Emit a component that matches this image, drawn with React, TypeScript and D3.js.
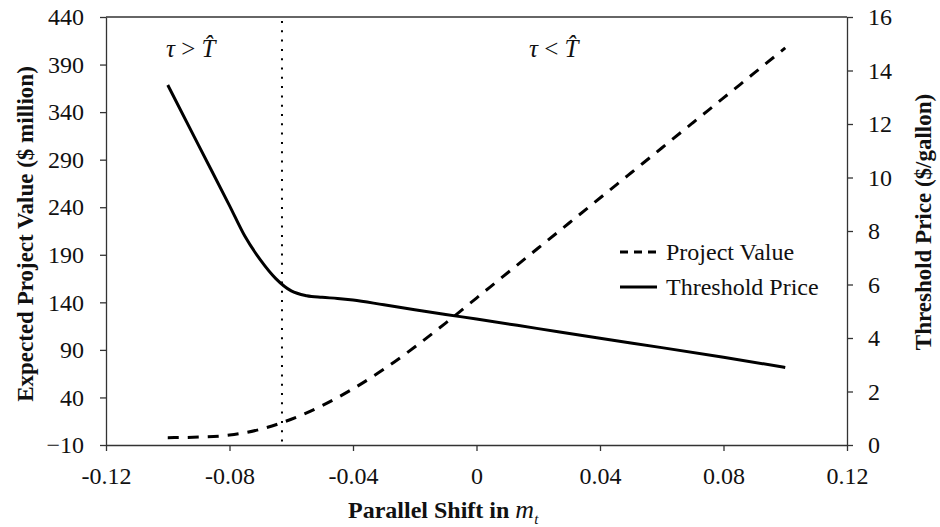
import React, { useRef, useEffect } from "react";
import * as d3 from "d3";

// Parallel shift values (x) and the two series
const shiftProject = [-0.1, -0.09, -0.08, -0.07, -0.06, -0.05, -0.04, -0.03, -0.02, -0.01, 0, 0.01, 0.02, 0.03, 0.04, 0.05, 0.06, 0.07, 0.08, 0.09, 0.1];
const projectValue = [-2.3, -1.7, 0.4, 6.5, 17.1, 31.4, 49.1, 69.7, 93, 118.2, 144.5, 170.8, 197.1, 223.4, 249.7, 276, 302.3, 328.6, 354.9, 381.2, 407.5];

const shiftThreshold = [-0.1, -0.09, -0.08, -0.075, -0.07, -0.065, -0.06, -0.055, -0.05, -0.045, -0.04, -0.03, -0.02, -0.01, 0, 0.02, 0.04, 0.06, 0.08, 0.1];
const thresholdPrice = [13.46, 11.2, 8.95, 7.8, 6.92, 6.22, 5.76, 5.58, 5.52, 5.48, 5.42, 5.24, 5.06, 4.88, 4.71, 4.35, 3.99, 3.64, 3.28, 2.9];

const xTicks = [-0.12, -0.08, -0.04, 0, 0.04, 0.08, 0.12];
const leftTicks = [-10, 40, 90, 140, 190, 240, 290, 340, 390, 440];
const rightTicks = [0, 2, 4, 6, 8, 10, 12, 14, 16];
const cutoffShift = -0.063;

const seriesNames = ["Project Value", "Threshold Price"];

const W = 940;
const H = 527;
const FONT = "'Liberation Serif', 'Times New Roman', serif";

const Chart: React.FC = () => {
	const svgRef = useRef<SVGSVGElement | null>(null);

	useEffect(() => {
		if (!svgRef.current) return;
		const svg = d3.select(svgRef.current);
		svg.selectAll("*").remove();

		const left = 106, right = 847, top = 17, bottom = 445;

		const x = d3.scaleLinear().domain([-0.12, 0.12]).range([left, right]);
		const yL = d3.scaleLinear().domain([-10, 440]).range([bottom, top]);
		const yR = d3.scaleLinear().domain([0, 16]).range([bottom, top]);

		const axisColor = "#333";

		// top border
		svg.append("line")
			.attr("x1", left).attr("x2", right)
			.attr("y1", top).attr("y2", top)
			.attr("stroke", axisColor).attr("stroke-width", 1.3);

		const styleAxis = (g: d3.Selection<SVGGElement, unknown, null, undefined>) => {
			g.selectAll(".domain").attr("stroke", axisColor).attr("stroke-width", 1.3);
			g.selectAll(".tick line").attr("stroke", axisColor).attr("stroke-width", 1.3);
			g.selectAll(".tick text")
				.attr("fill", "#111")
				.attr("font-family", FONT)
				.attr("font-size", 24);
		};

		svg.append("g")
			.attr("transform", `translate(0,${bottom})`)
			.call(
				d3.axisBottom(x)
					.tickValues(xTicks)
					.tickSize(6)
					.tickSizeOuter(0)
					.tickPadding(16)
					.tickFormat((d) => (+d === 0 ? "0" : (+d).toFixed(2)))
			)
			.call(styleAxis);

		svg.append("g")
			.attr("transform", `translate(${left},0)`)
			.call(d3.axisLeft(yL).tickValues(leftTicks).tickSize(6).tickSizeOuter(0).tickPadding(16))
			.call(styleAxis);

		svg.append("g")
			.attr("transform", `translate(${right},0)`)
			.call(d3.axisRight(yR).tickValues(rightTicks).tickSize(6).tickSizeOuter(0).tickPadding(15))
			.call(styleAxis);

		// cutoff dotted line
		svg.append("line")
			.attr("x1", x(cutoffShift)).attr("x2", x(cutoffShift))
			.attr("y1", top + 4).attr("y2", bottom)
			.attr("stroke", "#000")
			.attr("stroke-width", 2)
			.attr("stroke-dasharray", "2,7.3");

		const projLine = d3.line<number>()
			.x((_, i) => x(shiftProject[i]))
			.y((d) => yL(d))
			.curve(d3.curveMonotoneX);

		const thrLine = d3.line<number>()
			.x((_, i) => x(shiftThreshold[i]))
			.y((d) => yR(d))
			.curve(d3.curveMonotoneX);

		svg.append("path")
			.attr("d", projLine(projectValue))
			.attr("fill", "none")
			.attr("stroke", "#000")
			.attr("stroke-width", 3)
			.attr("stroke-dasharray", "11,9");

		svg.append("path")
			.attr("d", thrLine(thresholdPrice))
			.attr("fill", "none")
			.attr("stroke", "#000")
			.attr("stroke-width", 3);

		// legend
		const legend = svg.append("g").attr("font-family", FONT).attr("font-size", 24);
		seriesNames.forEach((name, i) => {
			const ly = 252 + i * 35;
			legend.append("line")
				.attr("x1", 620).attr("x2", 657)
				.attr("y1", ly).attr("y2", ly)
				.attr("stroke", "#000")
				.attr("stroke-width", 3)
				.attr("stroke-dasharray", i === 0 ? "8,6" : null);
			legend.append("text")
				.attr("x", 666).attr("y", ly + 8)
				.attr("fill", "#111")
				.text(name);
		});

		// regime annotations
		const annot = (ax: number, sign: string) => {
			const t = svg.append("text")
				.attr("x", ax).attr("y", 57)
				.attr("font-family", FONT)
				.attr("font-size", 25)
				.attr("fill", "#111");
			t.append("tspan").attr("font-style", "italic").text("τ");
			t.append("tspan").text(` ${sign} `);
			t.append("tspan").attr("font-style", "italic").text("T\u0302");
		};
		annot(166, ">");
		annot(529, "<");

		// axis titles
		const xt = svg.append("text")
			.attr("x", 348)
			.attr("y", 518)
			.attr("font-family", FONT)
			.attr("font-size", 24)
			.attr("font-weight", "bold")
			.attr("fill", "#111");
		xt.append("tspan").text("Parallel Shift in ");
		xt.append("tspan").attr("font-style", "italic").attr("font-weight", "normal").attr("font-size", 26).text("m");
		xt.append("tspan").attr("font-style", "italic").attr("font-weight", "normal").attr("font-size", 15).attr("dy", 6).text("t");

		svg.append("text")
			.attr("transform", `translate(25,234) rotate(-90)`)
			.attr("text-anchor", "middle")
			.attr("dominant-baseline", "central")
			.attr("font-family", FONT)
			.attr("font-size", 23)
			.attr("font-weight", "bold")
			.attr("fill", "#111")
			.text("Expected Project Value ($ million)");

		svg.append("text")
			.attr("transform", `translate(923,222) rotate(-90)`)
			.attr("text-anchor", "middle")
			.attr("dominant-baseline", "central")
			.attr("font-family", FONT)
			.attr("font-size", 23)
			.attr("font-weight", "bold")
			.attr("fill", "#111")
			.text("Threshold Price ($/gallon)");
	}, []);

	return (
		<svg
			ref={svgRef}
			width={W}
			height={H}
			style={{ position: "absolute", left: 0, top: 0, background: "#fff" }}
		/>
	);
};

export default function App() {
	return <Chart />;
}
